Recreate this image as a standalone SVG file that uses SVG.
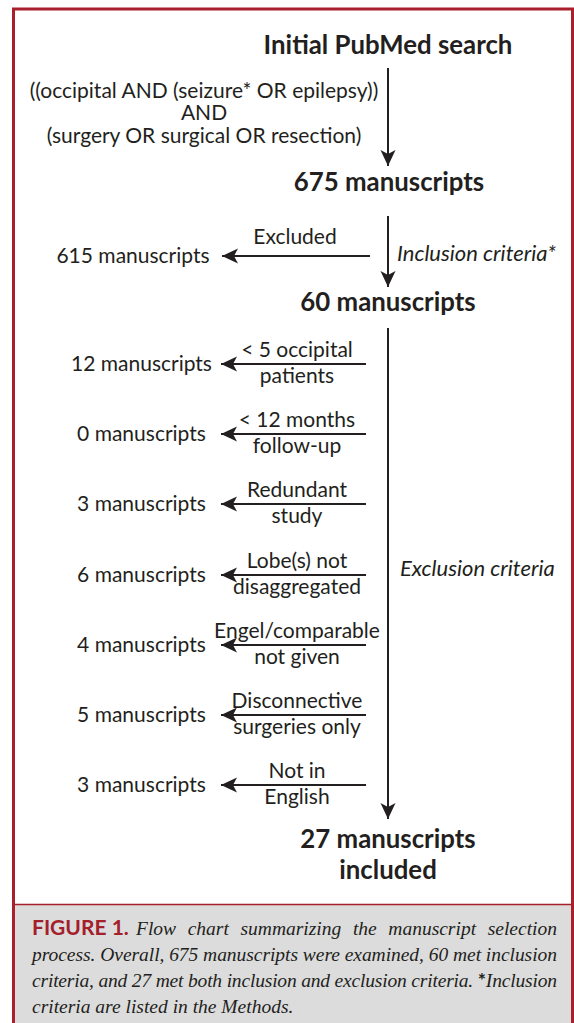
<svg xmlns="http://www.w3.org/2000/svg" width="574" height="1023" viewBox="0 0 574 1023">
<defs>
<style>
.t{font-family:Lato,"Open Sans","Liberation Sans",sans-serif;font-size:21px;fill:#231f20}
.b{font-family:Lato,"Open Sans","Liberation Sans",sans-serif;font-size:25.8px;font-weight:bold;fill:#231f20}
.i{font-style:italic;font-size:22px}
.c{text-anchor:middle}
.ln{stroke:#231f20;stroke-width:2;fill:none}
.cap{font-family:"Liberation Serif","Times New Roman",serif;font-style:italic;font-size:19.5px;fill:#231f20}
</style>
<marker id="ah" markerUnits="userSpaceOnUse" markerWidth="20" markerHeight="20" viewBox="-17 -9 20 18" refX="0" refY="0" orient="auto">
<path d="M0,0 L-16,-7.5 L-12,0 L-16,7.5 Z" fill="#231f20"/>
</marker>
</defs>
<rect x="14" y="905" width="558" height="118" fill="#dcdcdc"/>
<path d="M13.5,1023 V9 H572.5 V1023" fill="none" stroke="#a8202b" stroke-width="3"/>
<line x1="14" y1="904.5" x2="572" y2="904.5" stroke="#a8202b" stroke-width="1.5"/>

<g id="connectors">
<line class="ln" x1="388" y1="68" x2="388" y2="166" marker-end="url(#ah)"/>
<line class="ln" x1="388" y1="216" x2="388" y2="287" marker-end="url(#ah)"/>
<line class="ln" x1="370" y1="256" x2="222" y2="256" marker-end="url(#ah)"/>
<line class="ln" x1="388" y1="328" x2="388" y2="819" marker-end="url(#ah)"/>
<line class="ln" x1="366" y1="364" x2="221" y2="364" marker-end="url(#ah)"/>
<line class="ln" x1="366" y1="434" x2="221" y2="434" marker-end="url(#ah)"/>
<line class="ln" x1="366" y1="504" x2="221" y2="504" marker-end="url(#ah)"/>
<line class="ln" x1="366" y1="575" x2="221" y2="575" marker-end="url(#ah)"/>
<line class="ln" x1="366" y1="645" x2="221" y2="645" marker-end="url(#ah)"/>
<line class="ln" x1="366" y1="715" x2="221" y2="715" marker-end="url(#ah)"/>
<line class="ln" x1="366" y1="785" x2="221" y2="785" marker-end="url(#ah)"/>
</g>

<g id="n-initial"><text class="b c" x="388" y="54">Initial PubMed search</text></g>
<g id="n-query">
<text class="t c" x="204" y="97.5">((occipital AND (seizure* OR epilepsy))</text>
<text class="t c" x="204" y="120">AND</text>
<text class="t c" x="204" y="142.5">(surgery OR surgical OR resection)</text>
</g>
<g id="n-675"><text class="b c" x="389" y="191">675 manuscripts</text></g>
<g id="n-excluded"><text class="t c" x="295" y="244">Excluded</text></g>
<g id="n-615"><text class="t c" x="133" y="263">615 manuscripts</text></g>
<g id="n-inclusion"><text class="t i" x="397" y="261">Inclusion criteria*</text></g>
<g id="n-60"><text class="b c" x="388" y="311">60 manuscripts</text></g>
<g id="n-exclusion"><text class="t i" x="400" y="576">Exclusion criteria</text></g>

<g id="row1"><text class="t c" x="141.5" y="371">12 manuscripts</text><text class="t c" x="297" y="357">&lt; 5 occipital</text><text class="t c" x="297" y="383">patients</text></g>
<g id="row2"><text class="t c" x="141.5" y="441">0 manuscripts</text><text class="t c" x="297" y="427">&lt; 12 months</text><text class="t c" x="297" y="453">follow-up</text></g>
<g id="row3"><text class="t c" x="141.5" y="511">3 manuscripts</text><text class="t c" x="297" y="497">Redundant</text><text class="t c" x="297" y="523">study</text></g>
<g id="row4"><text class="t c" x="141.5" y="582">6 manuscripts</text><text class="t c" x="297" y="568">Lobe(s) not</text><text class="t c" x="297" y="594">disaggregated</text></g>
<g id="row5"><text class="t c" x="141.5" y="652">4 manuscripts</text><text class="t c" x="297" y="638">Engel/comparable</text><text class="t c" x="297" y="664">not given</text></g>
<g id="row6"><text class="t c" x="141.5" y="722">5 manuscripts</text><text class="t c" x="297" y="708">Disconnective</text><text class="t c" x="297" y="734">surgeries only</text></g>
<g id="row7"><text class="t c" x="141.5" y="792">3 manuscripts</text><text class="t c" x="297" y="778">Not in</text><text class="t c" x="297" y="804">English</text></g>

<g id="n-27"><text class="b c" x="388" y="848">27 manuscripts</text><text class="b c" x="388" y="879">included</text></g>

<g id="caption">
<text x="32" y="935" font-family="Lato,'Open Sans',sans-serif" font-weight="bold" font-size="21" fill="#a3202a">FIGURE 1.</text>
<text class="cap" y="935"><tspan x="136">Flow</tspan><tspan x="187.7">chart</tspan><tspan x="240.5">summarizing</tspan><tspan x="352.9">the</tspan><tspan x="388.3">manuscript</tspan><tspan x="557" text-anchor="end">selection</tspan></text>
<text class="cap" x="32" y="961" textLength="525" lengthAdjust="spacing">process. Overall, 675 manuscripts were examined, 60 met inclusion</text>
<text class="cap" x="32" y="987" textLength="525" lengthAdjust="spacing">criteria, and 27 met both inclusion and exclusion criteria. <tspan font-style="normal" font-weight="bold" font-family="Lato,sans-serif">*</tspan>Inclusion</text>
<text class="cap" x="32" y="1013">criteria are listed in the Methods.</text>
</g>
</svg>
